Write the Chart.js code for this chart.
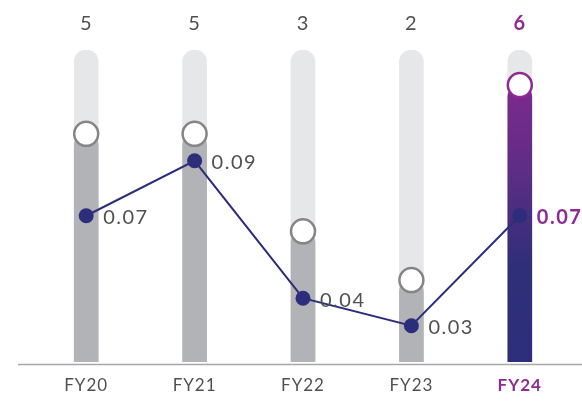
<!DOCTYPE html>
<html>
<head>
  <meta charset="utf-8">
  <title>FY20-FY24</title>
  <script src="https://cdn.jsdelivr.net/npm/chart.js"></script>
  <style>
    body { margin: 0; background: #fff; }
    .chart-container { width: 582px; height: 401px; }
  </style>
</head>
<body>
  <div class="chart-container">
    <canvas id="fyChart" width="582" height="401"></canvas>
  </div>

  <script>
    // categories and values
    const years = ['FY20', 'FY21', 'FY22', 'FY23', 'FY24'];
    const counts = [5, 5, 3, 2, 6];                 // bar height + label on top
    const rates = [0.07, 0.09, 0.04, 0.03, 0.07];   // line series (right scale)
    const track = [6.72, 6.72, 6.72, 6.72, 6.72];   // light grey track behind each bar

    const FONT = 'Lato, "Open Sans", sans-serif';
    const PURPLE = '#8e2a93';
    const NAVY = '#2d2e7b';
    const TEXT = '#505050';
    const last = years.length - 1;

    // the source font is wider than Lato, so space the letters a bit
    const spacingPlugin = {
      id: 'spacing',
      beforeDraw(chart) { chart.ctx.letterSpacing = '1px'; }
    };

    // numbers above the bars, values beside the line points, base line
    const labelPlugin = {
      id: 'labels',
      afterDatasetsDraw(chart) {
        const ctx = chart.ctx;
        const xs = chart.scales.x;
        const area = chart.chartArea;
        ctx.save();

        // base line
        ctx.strokeStyle = '#a7a7a7';
        ctx.lineWidth = 1.5;
        ctx.beginPath();
        ctx.moveTo(18, area.bottom + 2.5);
        ctx.lineTo(582, area.bottom + 2.5);
        ctx.stroke();

        ctx.textBaseline = 'middle';
        // counts on top
        ctx.textAlign = 'center';
        counts.forEach((v, i) => {
          const hi = i === last;
          ctx.font = (hi ? 'bold ' : '') + '20px ' + FONT;
          ctx.fillStyle = hi ? PURPLE : TEXT;
          ctx.fillText(String(v), xs.getPixelForValue(i), 24);
        });

        // rate labels
        const meta = chart.getDatasetMeta(0);
        ctx.textAlign = 'left';
        ctx.letterSpacing = '1.5px';
        meta.data.forEach((pt, i) => {
          const hi = i === last;
          ctx.font = (hi ? 'bold ' : '') + '20px ' + FONT;
          ctx.fillStyle = hi ? PURPLE : TEXT;
          ctx.fillText(rates[i].toFixed(2), pt.x + 17, pt.y + 2);
        });
        ctx.restore();
      }
    };

    function barFill(context) {
      if (context.dataIndex !== last) return '#b1b3b6';
      const chart = context.chart;
      const area = chart.chartArea;
      if (!area) return NAVY;
      const top = chart.scales.y.getPixelForValue(counts[last]);
      const g = chart.ctx.createLinearGradient(0, top, 0, area.bottom);
      g.addColorStop(0, '#7c2a8d');
      g.addColorStop(0.3, '#5f2d85');
      g.addColorStop(0.65, '#2f2f79');
      g.addColorStop(1, NAVY);
      return g;
    }

    const ctx = document.getElementById('fyChart').getContext('2d');
    new Chart(ctx, {
      data: {
        labels: years,
        datasets: [
          {
            type: 'line',
            label: 'Rate',
            data: rates,
            yAxisID: 'y2',
            borderColor: NAVY,
            borderWidth: 2,
            pointRadius: 7.5,
            pointBackgroundColor: NAVY,
            pointBorderWidth: 0,
            order: 0
          },
          {
            type: 'line',
            label: 'Marker',
            data: counts,
            yAxisID: 'y',
            showLine: false,
            pointRadius: 12,
            pointBorderWidth: 2.5,
            pointBackgroundColor: '#ffffff',
            pointBorderColor: (c) => c.dataIndex === last ? PURPLE : '#858585',
            order: 1
          },
          {
            type: 'bar',
            label: 'Count',
            data: counts,
            yAxisID: 'y',
            grouped: false,
            barThickness: 24,
            borderRadius: 12,
            borderSkipped: false,
            backgroundColor: barFill,
            order: 2
          },
          {
            type: 'bar',
            label: 'Track',
            data: track,
            yAxisID: 'y',
            grouped: false,
            barThickness: 24,
            borderRadius: 12,
            borderSkipped: false,
            backgroundColor: '#e6e7e8',
            order: 3
          }
        ]
      },
      options: {
        responsive: false,
        animation: false,
        layout: {
          autoPadding: false,
          padding: { top: 50, left: 32, right: 8, bottom: 0 }
        },
        plugins: {
          legend: { display: false },
          tooltip: { enabled: false }
        },
        scales: {
          x: {
            offset: true,
            grid: { display: false, drawTicks: false },
            border: { display: false },
            afterFit(scale) {
              scale.height = 39;
              scale.paddingLeft = 0;
              scale.paddingRight = 0;
            },
            ticks: {
              padding: 13,
              color: (c) => c.index === last ? PURPLE : TEXT,
              font: (c) => ({
                family: FONT,
                size: 17,
                weight: c.index === last ? 'bold' : 'normal'
              })
            }
          },
          y: {
            display: false,
            min: 0.32,
            max: 6.72
          },
          y2: {
            display: false,
            position: 'right',
            min: 0.0168,
            max: 0.1303
          }
        }
      },
      plugins: [spacingPlugin, labelPlugin]
    });
  </script>
</body>
</html>
